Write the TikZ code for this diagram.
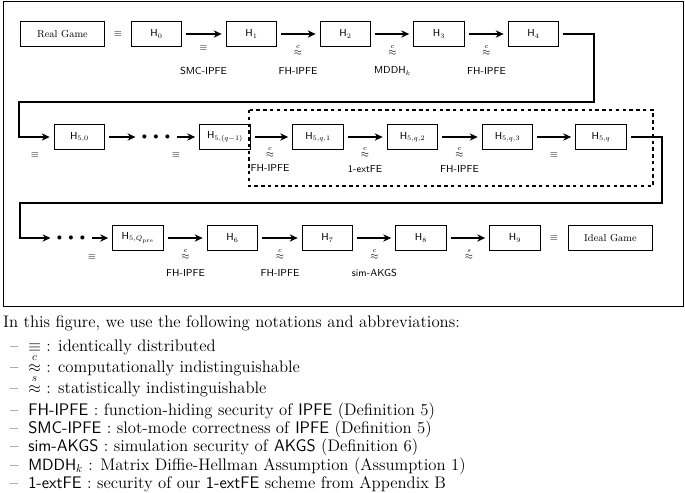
\documentclass[tikz,border=0pt]{standalone}
\usepackage{amsmath}
\usepackage{amssymb}
\usetikzlibrary{arrows.meta}
\newcommand{\approxc}{\overset{c}{\approx}}
\newcommand{\approxs}{\overset{s}{\approx}}

\begin{document}
\begin{tikzpicture}[x=0.885pt,y=-0.885pt,
  game/.style={draw,line width=0.9pt,minimum width=45pt,minimum height=21.5pt,inner sep=1pt,font=\small\sffamily},
  hop/.style={-{Stealth[length=7pt,width=6.5pt]},line width=1pt,shorten <=3.5pt,shorten >=3.5pt},
  rel/.style={inner sep=0pt,font=\small},
  why/.style={inner sep=0pt,font=\small\sffamily},
  note/.style={anchor=base west,inner sep=0pt,font=\fontsize{14.8}{18}\selectfont}]
\useasboundingbox (0,0) rectangle (685,493);
\draw[line width=0.8pt] (3,1) rectangle (683,306);

\node[game,font=\small,minimum width=75pt] (real) at (62.5,34) {Real Game};
\node[rel] (e0) at (118,34) {$\equiv$};
\node[game] (h0) at (156.5,34) {$\mathsf{H}_0$};
\node[game] (h1) at (251.5,34) {$\mathsf{H}_1$};
\node[game] (h2) at (345.5,34) {$\mathsf{H}_2$};
\node[game] (h3) at (439,34) {$\mathsf{H}_3$};
\node[game] (h4) at (533.5,34) {$\mathsf{H}_4$};
\draw[hop] (h0) -- (h1);
\draw[hop] (h1) -- (h2);
\draw[hop] (h2) -- (h3);
\draw[hop] (h3) -- (h4);
\node[rel] (r01) at (203.5,48) {$\equiv$};
\node[why] (w01) at (203.5,71) {SMC-IPFE};
\node[rel] (r12) at (298,50) {$\approxc$};
\node[why] (w12) at (298,71) {FH-IPFE};
\node[rel] (r23) at (392.5,50) {$\approxc$};
\node[why] (w23) at (392.5,71) {$\mathsf{MDDH}_k$};
\node[rel] (r34) at (486.5,50) {$\approxc$};
\node[why] (w34) at (486.5,71) {FH-IPFE};

\draw[dashed,line width=0.9pt] (249,110) rectangle (653,186);
\node[game] (h50) at (79.5,137) {$\mathsf{H}_{5,0}$};
\node[rel,inner xsep=2pt] (dots1) at (156,137) {$\bullet\hspace{3.5pt}\bullet\hspace{3.5pt}\bullet$};
\node[game] (h5p) at (225,137) {$\mathsf{H}_{5,(q-1)}$};
\node[game] (h5q1) at (318,137) {$\mathsf{H}_{5,q,1}$};
\node[game] (h5q2) at (412.5,137) {$\mathsf{H}_{5,q,2}$};
\node[game] (h5q3) at (507.5,137) {$\mathsf{H}_{5,q,3}$};
\node[game] (h5q) at (601,137) {$\mathsf{H}_{5,q}$};
\coordinate (bendA) at (594,102);
\coordinate (bendB) at (19,137);
\draw[hop] (h4) -| (bendA) -| (bendB) -- (h50);
\draw[hop] (h50) -- (dots1);
\draw[hop] (dots1) -- (h5p);
\draw[hop] (h5p) -- (h5q1);
\draw[hop] (h5q1) -- (h5q2);
\draw[hop] (h5q2) -- (h5q3);
\draw[hop] (h5q3) -- (h5q);
\node[rel] (r4b) at (35,155) {$\equiv$};
\node[rel] (rdp) at (176,155) {$\equiv$};
\node[rel] (rp1) at (270,152) {$\approxc$};
\node[why] (wp1) at (270,168) {FH-IPFE};
\node[rel] (r12q) at (365,152) {$\approxc$};
\node[why] (w12q) at (365,169) {1-extFE};
\node[rel] (r23q) at (459.5,152) {$\approxc$};
\node[why] (w23q) at (459.5,169) {FH-IPFE};
\node[rel] (r3q) at (554,155) {$\equiv$};

\node[rel,inner xsep=2pt] (dots2) at (71,238) {$\bullet\hspace{3.5pt}\bullet\hspace{3.5pt}\bullet$};
\node[game] (h5Q) at (138,238) {$\mathsf{H}_{5,Q_{\mathrm{pre}}}$};
\node[game] (h6) at (232.5,238) {$\mathsf{H}_6$};
\node[game] (h7) at (327.5,238) {$\mathsf{H}_7$};
\node[game] (h8) at (421,238) {$\mathsf{H}_8$};
\node[game] (h9) at (515,238) {$\mathsf{H}_9$};
\node[rel] (e9) at (554,238) {$\equiv$};
\node[game,font=\small,minimum width=75pt] (ideal) at (610.5,238) {Ideal Game};
\coordinate (bendC) at (662,203);
\coordinate (bendD) at (20,238);
\draw[hop] (h5q) -| (bendC) -| (bendD) -- (dots2);
\draw[hop] (dots2) -- (h5Q);
\draw[hop] (h5Q) -- (h6);
\draw[hop] (h6) -- (h7);
\draw[hop] (h7) -- (h8);
\draw[hop] (h8) -- (h9);
\node[rel] (rdQ) at (92,257) {$\equiv$};
\node[rel] (rQ6) at (185.5,254) {$\approxc$};
\node[why] (wQ6) at (185.5,273) {FH-IPFE};
\node[rel] (r67) at (280,254) {$\approxc$};
\node[why] (w67) at (280,273) {FH-IPFE};
\node[rel] (r78) at (374.5,254) {$\approxc$};
\node[why] (w78) at (374.5,273) {sim-AKGS};
\node[rel] (r89) at (469,254) {$\approxs$};

\node[note] (intro) at (3,327) {In this figure, we use the following notations and abbreviations:};
\node[note] (n1) at (10,352) {\makebox[16pt][l]{--}$\equiv$ : identically distributed};
\node[note] (n2) at (10,372) {\makebox[16pt][l]{--}$\approxc$ : computationally indistinguishable};
\node[note] (n3) at (10,393) {\makebox[16pt][l]{--}$\approxs$ : statistically indistinguishable};
\node[note] (n4) at (10,415) {\makebox[16pt][l]{--}\textsf{FH-IPFE} : function-hiding security of \textsf{IPFE} (Definition 5)};
\node[note] (n5) at (10,433) {\makebox[16pt][l]{--}\textsf{SMC-IPFE} : slot-mode correctness of \textsf{IPFE} (Definition 5)};
\node[note] (n6) at (10,451.5) {\makebox[16pt][l]{--}\textsf{sim-AKGS} : simulation security of \textsf{AKGS} (Definition 6)};
\node[note] (n7) at (10,470) {\makebox[16pt][l]{--}$\mathsf{MDDH}_k$ : Matrix Diffie-Hellman Assumption (Assumption 1)};
\node[note] (n8) at (10,488) {\makebox[16pt][l]{--}\textsf{1-extFE} : security of our \textsf{1-extFE} scheme from Appendix B};
\end{tikzpicture}
\end{document}
